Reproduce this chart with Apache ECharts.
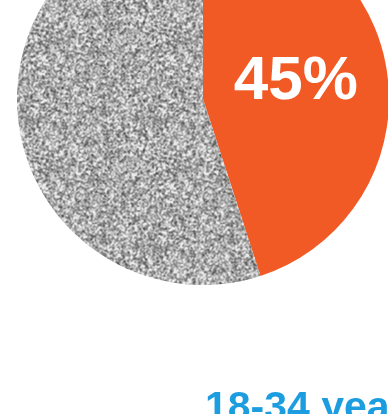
<!DOCTYPE html>
<html>
<head>
<meta charset="utf-8">
<style>
  html, body { margin: 0; padding: 0; background: #ffffff; }
  #chart { width: 388px; height: 414px; }
</style>
<script src="https://cdn.jsdelivr.net/npm/echarts@6/dist/echarts.min.js"></script>
</head>
<body>
<div id="chart"></div>
<script>
// Age-group share
const categories = ['18-34 years', 'Other ages'];
const shares = [45, 55];
const caption = '18-34 years';

// Grainy grey texture for the remaining share (deterministic hash noise,
// blurred with wrap-around so the tile repeats without seams)
function grainTexture(size) {
  const raw = new Float32Array(size * size);
  let s = 12345;
  for (let i = 0; i < raw.length; i++) {
    s = (s * 1103515245 + 12345) & 0x7fffffff;
    raw[i] = s / 0x7fffffff;
  }
  const c = document.createElement('canvas');
  c.width = size; c.height = size;
  const ctx = c.getContext('2d');
  const img = ctx.createImageData(size, size);
  const w = [[1, 2, 1], [2, 4, 2], [1, 2, 1]];
  for (let y = 0; y < size; y++) {
    for (let x = 0; x < size; x++) {
      let sum = 0;
      for (let dy = -1; dy <= 1; dy++) for (let dx = -1; dx <= 1; dx++) {
        const yy = (y + dy + size) % size, xx = (x + dx + size) % size;
        sum += raw[yy * size + xx] * w[dy + 1][dx + 1];
      }
      const v = sum / 16;
      const g = Math.max(80, Math.min(235, Math.round(172 + (v - 0.5) * 290)));
      const k = (y * size + x) * 4;
      img.data[k] = g; img.data[k + 1] = g; img.data[k + 2] = g; img.data[k + 3] = 255;
    }
  }
  ctx.putImageData(img, 0, 0);
  return c;
}

const chart = echarts.init(document.getElementById('chart'), null, { renderer: 'canvas' });
chart.setOption({
  animation: false,
  backgroundColor: '#ffffff',
  series: [{
    type: 'pie',
    center: [203, 99],
    radius: [0, 186],
    startAngle: 90,
    clockwise: true,
    silent: true,
    labelLine: { show: false },
    data: categories.map((name, i) => ({
      name,
      value: shares[i],
      itemStyle: i === 0
        ? { color: '#f15a24' }
        : { color: { image: grainTexture(128), repeat: 'repeat' } },
      label: i === 0
        ? {
            show: true,
            position: 'inside',
            formatter: '{d}%',
            color: '#ffffff',
            fontFamily: 'Liberation Sans, Arial, sans-serif',
            fontWeight: 'bold',
            fontSize: 62,
            offset: [-2, -2]
          }
        : { show: false }
    }))
  }],
  graphic: [{
    type: 'text',
    left: 205,
    top: 388,
    style: {
      text: caption,
      fill: '#1b9de0',
      font: 'bold 41px "Liberation Sans", Arial, sans-serif'
    }
  }]
});
</script>
</body>
</html>
